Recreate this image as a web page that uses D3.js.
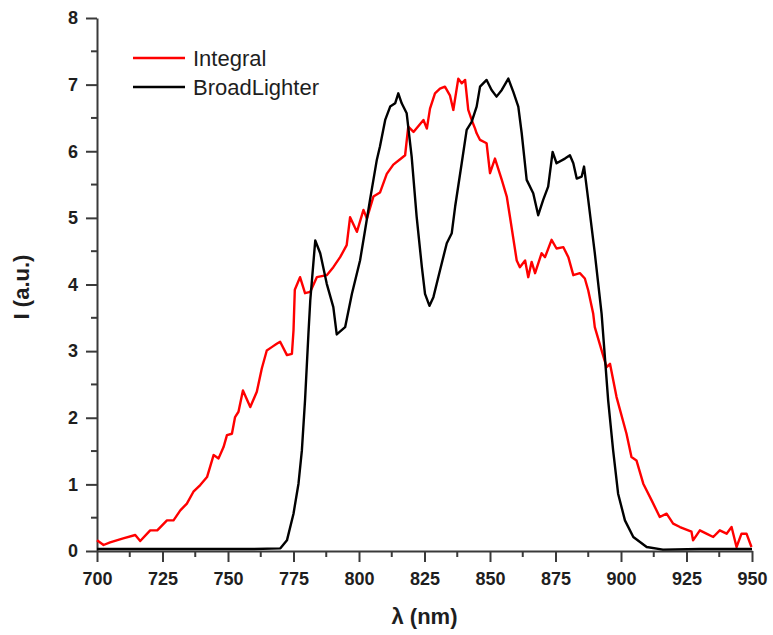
<!DOCTYPE html>
<html>
<head>
<meta charset="utf-8">
<script src="https://cdn.jsdelivr.net/npm/d3@7"></script>
<style>
  html, body { margin: 0; padding: 0; background: #fff; }
  svg { display: block; font-family: "Liberation Sans", Arial, sans-serif; }
</style>
</head>
<body>
<svg id="chart" width="773" height="635"></svg>
<script>
// ---- data ----
const seriesNames = ["Integral", "BroadLighter"];
const seriesColors = ["#ff0000", "#000000"];

const xTicks = [700, 725, 750, 775, 800, 825, 850, 875, 900, 925, 950];
const yTicks = [0, 1, 2, 3, 4, 5, 6, 7, 8];

const integralX = [700, 702.5, 705, 710, 714.6, 716.5, 720.3, 723, 726.7, 729.2, 731.8, 734.3, 736.8, 739.4, 742, 744.5, 746.4, 748.3, 749.6, 751.5, 752.7, 754, 755.7, 758.5, 761, 762.9, 764.8, 766.7, 768.6, 769.9, 772.5, 774.4, 775, 775.5, 777.5, 779.4, 781.4, 783.9, 787.7, 790.2, 792.8, 795.3, 796.6, 799.2, 801.7, 803, 805.5, 808, 810.6, 813.1, 815.7, 817.6, 818.8, 820.8, 824.6, 825.9, 827.1, 829, 830.9, 832.8, 834.7, 836, 837.9, 839.2, 840.5, 841.7, 843, 844.3, 844.9, 846.2, 848.7, 850, 851.9, 854.5, 856.4, 857.6, 860.2, 861.4, 863.4, 864.6, 865.9, 867.2, 869.7, 871, 873.5, 875.4, 878, 879.9, 881.8, 884.3, 886.2, 887.5, 889.4, 890, 892.6, 894.5, 895.8, 898.3, 902.1, 904, 905.9, 908.5, 911.7, 914.8, 917.4, 919.9, 922.5, 926.9, 927.5, 930.1, 932.6, 935.2, 937.7, 940.3, 942.2, 944.1, 946, 947.9, 949.8];
const integralY = [0.16, 0.09, 0.13, 0.19, 0.24, 0.15, 0.31, 0.31, 0.46, 0.46, 0.61, 0.71, 0.89, 0.99, 1.11, 1.44, 1.39, 1.56, 1.74, 1.76, 2.01, 2.09, 2.41, 2.16, 2.39, 2.74, 3.01, 3.06, 3.11, 3.14, 2.94, 2.96, 3.31, 3.92, 4.11, 3.87, 3.89, 4.11, 4.14, 4.26, 4.41, 4.59, 5.01, 4.79, 5.12, 4.99, 5.32, 5.38, 5.66, 5.8, 5.88, 5.94, 6.37, 6.29, 6.47, 6.34, 6.64, 6.87, 6.94, 6.97, 6.84, 6.62, 7.09, 7.02, 7.07, 6.62, 6.47, 6.34, 6.27, 6.17, 6.12, 5.67, 5.89, 5.57, 5.32, 5.02, 4.36, 4.26, 4.36, 4.11, 4.34, 4.17, 4.47, 4.41, 4.67, 4.54, 4.56, 4.41, 4.14, 4.17, 4.09, 3.91, 3.56, 3.36, 3.01, 2.76, 2.81, 2.31, 1.76, 1.41, 1.36, 1.01, 0.76, 0.51, 0.56, 0.41, 0.36, 0.29, 0.16, 0.31, 0.26, 0.21, 0.31, 0.26, 0.36, 0.06, 0.26, 0.26, 0.06];

const broadX = [700, 720, 740, 760, 770, 772.5, 775, 776.9, 778.2, 779.4, 780.7, 781.4, 783.3, 785.2, 787.7, 790.2, 791.5, 794.7, 797.3, 800.4, 802.3, 804.2, 806.8, 808, 810, 811.9, 813.8, 815, 816.3, 818.2, 820.1, 822, 824, 825.2, 826.9, 828.4, 830.9, 833.5, 835.4, 836.7, 839.2, 841.1, 843, 844.9, 846.2, 848.7, 850.6, 852.5, 854.5, 857, 858.9, 860.8, 862.1, 864, 866.5, 868.4, 870.3, 872.2, 873.9, 875.4, 878.6, 880.5, 881.8, 883.1, 885, 885.9, 887.5, 890, 892.6, 895.1, 897, 898.9, 901.5, 904.7, 909.8, 916, 930, 950];
const broadY = [0.03, 0.03, 0.03, 0.03, 0.04, 0.16, 0.56, 1.01, 1.51, 2.26, 3.26, 3.76, 4.66, 4.47, 4.01, 3.66, 3.25, 3.36, 3.86, 4.36, 4.81, 5.27, 5.87, 6.07, 6.47, 6.67, 6.72, 6.87, 6.72, 6.57, 5.92, 5.02, 4.26, 3.86, 3.68, 3.81, 4.21, 4.62, 4.77, 5.17, 5.82, 6.32, 6.44, 6.67, 6.97, 7.07, 6.92, 6.82, 6.92, 7.09, 6.89, 6.67, 6.27, 5.57, 5.37, 5.04, 5.27, 5.47, 5.99, 5.82, 5.89, 5.94, 5.82, 5.59, 5.62, 5.77, 5.27, 4.47, 3.56, 2.26, 1.51, 0.86, 0.46, 0.21, 0.06, 0.02, 0.03, 0.03];

// ---- drawing ----
const svg = d3.select("#chart");
const x = d3.scaleLinear().domain([700, 950]).range([97, 752]);
const y = d3.scaleLinear().domain([0, 8]).range([551, 18]);

const axisColor = "#3a3a3a";
const textColor = "#1e1e1e";

// x axis
const xAxis = d3.axisBottom(x).tickValues(xTicks).tickSize(11).tickSizeOuter(0).tickPadding(10).tickFormat(d3.format("d"));
const gx = svg.append("g").attr("transform", `translate(0,${y(0)})`).call(xAxis);
const xMinor = d3.range(712.5, 950, 25);
gx.selectAll(".minor").data(xMinor).enter().append("line")
  .attr("x1", d => x(d)).attr("x2", d => x(d)).attr("y1", 0).attr("y2", 6)
  .attr("stroke", axisColor).attr("stroke-width", 2);

// y axis
const yAxis = d3.axisLeft(y).tickValues(yTicks).tickSize(11).tickSizeOuter(0).tickPadding(8).tickFormat(d3.format("d"));
const gy = svg.append("g").attr("transform", `translate(${x(700)},0)`).call(yAxis);
const yMinor = d3.range(0.5, 8, 1);
gy.selectAll(".minor").data(yMinor).enter().append("line")
  .attr("x1", 0).attr("x2", -6).attr("y1", d => y(d)).attr("y2", d => y(d))
  .attr("stroke", axisColor).attr("stroke-width", 2);

[gx, gy].forEach(g => {
  g.select(".domain").attr("stroke", axisColor).attr("stroke-width", 2);
  g.selectAll(".tick line").attr("stroke", axisColor).attr("stroke-width", 2);
  g.selectAll(".tick text").attr("fill", textColor).attr("font-size", 18).attr("font-weight", "bold")
    .attr("font-family", "Liberation Sans, Arial, sans-serif");
});

// axis titles
svg.append("text").attr("x", (x(700) + x(950)) / 2).attr("y", 624)
  .attr("text-anchor", "middle").attr("font-size", 22).attr("font-weight", "bold").attr("fill", textColor)
  .text("λ (nm)");
svg.append("text").attr("transform", `translate(29,287) rotate(-90)`)
  .attr("text-anchor", "middle").attr("font-size", 22).attr("font-weight", "bold").attr("fill", textColor)
  .text("I (a.u.)");

// lines
const series = [
  { name: seriesNames[0], color: seriesColors[0], xs: integralX, ys: integralY },
  { name: seriesNames[1], color: seriesColors[1], xs: broadX, ys: broadY }
];
const line = d3.line().x(d => x(d[0])).y(d => y(d[1]));
series.forEach(s => {
  svg.append("path")
    .datum(s.xs.map((v, i) => [v, s.ys[i]]))
    .attr("fill", "none").attr("stroke", s.color).attr("stroke-width", 2.4)
    .attr("stroke-linejoin", "round")
    .attr("d", line);
});

// legend
const legend = svg.append("g");
series.forEach((s, i) => {
  const ly = 58 + i * 29;
  legend.append("line").attr("x1", 133).attr("x2", 185).attr("y1", ly).attr("y2", ly)
    .attr("stroke", s.color).attr("stroke-width", 2.6);
  legend.append("text").attr("x", 193).attr("y", ly + 8).attr("font-size", 22).attr("fill", textColor)
    .text(s.name);
});
</script>
</body>
</html>
